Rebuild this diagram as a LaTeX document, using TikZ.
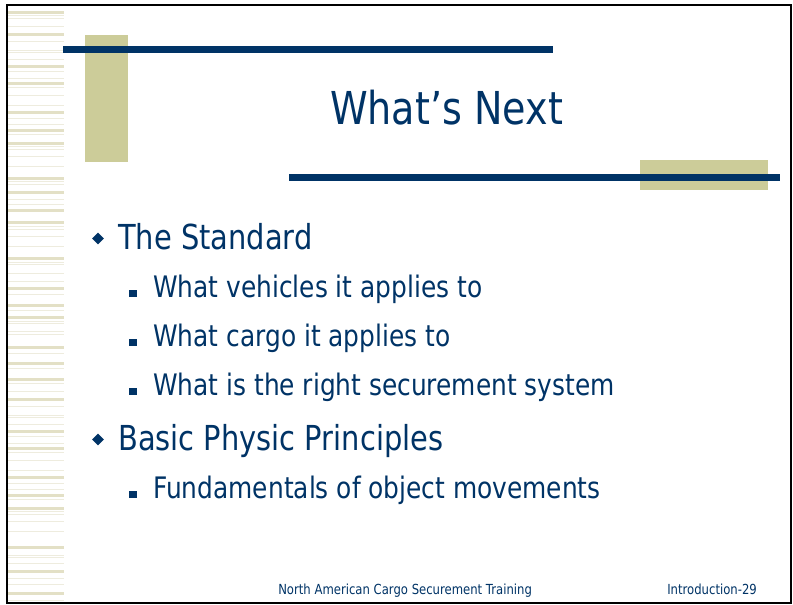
\documentclass[tikz,border=0pt]{standalone}
\usepackage{fontspec}
\setmainfont{DejaVu Sans}[FakeStretch=0.84]
\usetikzlibrary{shapes.geometric}

\definecolor{navy}{RGB}{0,51,102}
\definecolor{khaki}{RGB}{204,204,153}
\definecolor{stripe}{RGB}{227,224,198}
\definecolor{stripelt}{RGB}{238,236,222}

\tikzset{
  lvlone/.style={anchor=base west, inner sep=0, text=navy, font=\fontsize{25.8}{30}\selectfont},
  lvltwo/.style={anchor=base west, inner sep=0, text=navy, font=\fontsize{22.2}{26}\selectfont},
  dia/.style={diamond, fill=navy, inner sep=0, minimum size=9pt},
  sqr/.style={rectangle, fill=navy, inner sep=0, minimum size=5.5pt},
  footer/.style={anchor=base west, inner sep=0, text=navy, font=\fontsize{10.4}{12}\selectfont}
}

\begin{document}
\begin{tikzpicture}[x=0.75pt, y=-0.75pt]
        \useasboundingbox (0,0) rectangle (793,605);
%        \draw [help lines, step=50] (0,0) grid (793,605);
        % striped margin
        \foreach \y in {11,33,65,82,111,129,142,177,191,209,221,257,287,304,316,346,362,
                        378,398,430,447,476,494,507,546,570,592}
          \fill [stripe] (8,\y) rectangle (64,\y+2.7);
        \foreach \y in {15,18,26,41,50,52,59,71,78,87,95,105,118,124,134,146,149,156,166,
                        181,184,199,204,226,229,236,246,262,264,273,281,294,310,321,323,331,334,353,368,
                        383,391,406,415,417,424,436,443,452,460,470,483,489,499,511,514,521,531,
                        555,557,563,578,584,600}
          \fill [stripelt] (8,\y) rectangle (64,\y+1);
        \draw [line width=1.5pt] (7,5) rectangle (791,603);

        % bars and blocks
        \fill [khaki] (85,35) rectangle (128,162);
        \fill [navy] (63,46) rectangle (553,53);
        \fill [khaki] (640,160) rectangle (768,190);
        \fill [navy] (289,174) rectangle (780,181);

        \node [anchor=base, inner sep=0, text=navy, font=\fontsize{34}{40}\selectfont] (title) at (446.5,125) {What's Next};

        \node [dia] (dstd) at (98,238.5) {};
        \node [lvlone] (std) at (118,250) {The Standard};
        \foreach \t/\y [count=\i] in {What vehicles it applies to/298,
                                      What cargo it applies to/347,
                                      What is the right securement system/396} {
          \node [sqr] (sq\i) at (133,\y-4.5) {};
          \node [lvltwo] (sub\i) at (153,\y) {\t};
        }
        \node [dia] (dphys) at (98,439.5) {};
        \node [lvlone] (phys) at (118,451) {Basic Physic Principles};
        \node [sqr] (sqfund) at (133,494.5) {};
        \node [lvltwo] (fund) at (153,499) {Fundamentals of object movements};

        \node [footer] (course) at (278,595) {North American Cargo Securement Training};
        \node [footer] (page) at (667,595) {Introduction-29};
      \end{tikzpicture}
\end{document}
